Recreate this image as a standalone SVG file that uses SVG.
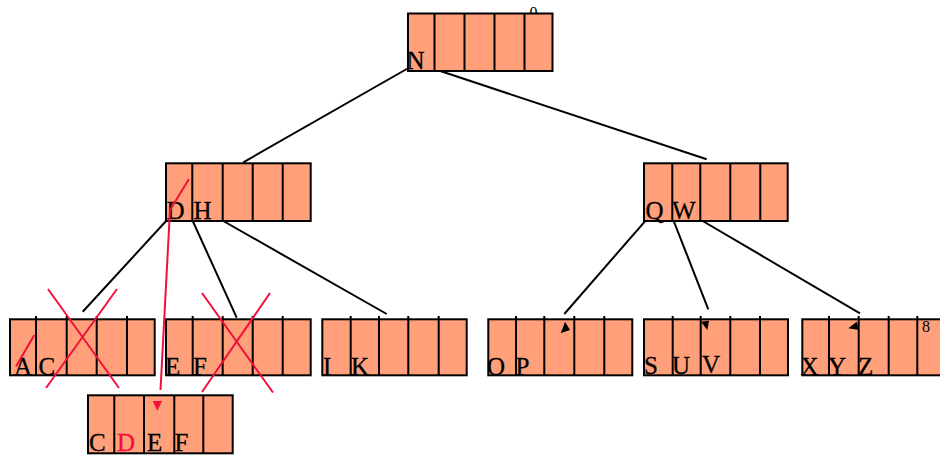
<svg xmlns="http://www.w3.org/2000/svg" width="940" height="456" viewBox="0 0 940 456">
<style>
.box{fill:#FFA07A;stroke:#000;stroke-width:2}
.div{stroke:#000;stroke-width:2;fill:none}
.lbl{font-family:"Liberation Serif","Times New Roman",serif;font-size:25px;fill:#000;stroke:#000;stroke-width:0.3}
.num{font-family:"Liberation Serif","Times New Roman",serif;font-size:16px;fill:#000}
.edge{stroke:#000;stroke-width:2;fill:none}
.head{fill:#000;stroke:none}
.red{stroke:#F0103C;stroke-width:2;fill:none}
.redfill{fill:#F0103C;stroke:none}
.redtxt{fill:#F0103C;stroke:#F0103C}
</style>
<rect width="940" height="456" fill="#fff"/>
<g id="connectors">
<line class="edge" x1="412" y1="66" x2="243.3" y2="162.3"/>
<line class="edge" x1="434.3" y1="69" x2="706.7" y2="159.3"/>
<line class="edge" x1="167" y1="220" x2="82.7" y2="311.7"/>
<line class="edge" x1="192.3" y1="220" x2="236.7" y2="317.7"/>
<line class="edge" x1="223.3" y1="221" x2="386.7" y2="314"/>
<line class="edge" x1="646.7" y1="219.3" x2="564.3" y2="314"/>
<line class="edge" x1="673.3" y1="220" x2="708.3" y2="309.3"/>
<line class="edge" x1="701" y1="220" x2="860" y2="313.3"/>
</g>
<g id="root">
<text class="num" x="529.5" y="18">0</text>
<rect class="box" x="408" y="13.5" width="144.5" height="57.5"/>
<path class="div" d="M434.5 13.5V71M464.5 13.5V71M494.5 13.5V71M524.5 13.5V71"/>
<text class="lbl" x="406.5" y="68.5">N</text>
</g>
<g id="node-DH">
<rect class="box" x="166" y="163.3" width="144.7" height="57.7"/>
<path class="div" d="M192.3 163.3V221M222.7 163.3V221M252.7 163.3V221M282.7 163.3V221"/>
<text class="lbl" x="166.5" y="218.5">D</text>
<text class="lbl" x="193.5" y="218.5">H</text>
</g>
<g id="node-QW">
<rect class="box" x="644" y="163.3" width="143.7" height="57.7"/>
<path class="div" d="M672.3 163.3V221M700.3 163.3V221M730.3 163.3V221M760.3 163.3V221"/>
<text class="lbl" x="645.5" y="218.5">Q</text>
<text class="lbl" x="672" y="218.5">W</text>
</g>
<g id="node-AC">
<rect class="box" x="10" y="319.3" width="144.7" height="56"/>
<path class="div" d="M36 316V375.3M66.7 316V375.3M96.7 316V375.3M127 316V375.3"/>
<text class="lbl" x="14" y="374.5">A</text>
<text class="lbl" x="38.5" y="374.5">C</text>
</g>
<g id="node-EF">
<rect class="box" x="166" y="319.3" width="144.7" height="56"/>
<path class="div" d="M192.7 316V375.3M222.7 316V375.3M252.7 316V375.3M282.7 316V375.3"/>
<text class="lbl" x="165" y="374.5">E</text>
<text class="lbl" x="193" y="374.5">F</text>
</g>
<g id="node-IK">
<rect class="box" x="322.3" y="319.3" width="144.4" height="56"/>
<path class="div" d="M350.7 316V375.3M379 316V375.3M408.3 316V375.3M438.7 316V375.3"/>
<text class="lbl" x="323" y="374.5">I</text>
<text class="lbl" x="351" y="374.5">K</text>
</g>
<g id="node-OP">
<rect class="box" x="488.3" y="319.3" width="144" height="56"/>
<path class="div" d="M516 316V375.3M544.3 316V375.3M574.3 316V375.3M604.3 316V375.3"/>
<text class="lbl" x="487" y="374.5">O</text>
<text class="lbl" x="515.5" y="374.5">P</text>
<polygon class="head" points="560.7,333.3 565,321.7 570,330"/>
</g>
<g id="node-SUV">
<rect class="box" x="644" y="319.3" width="144" height="56"/>
<path class="div" d="M672.7 316V375.3M700.7 316V375.3M730.3 316V375.3M760 316V375.3"/>
<text class="lbl" x="644" y="374">S</text>
<text class="lbl" x="672" y="374">U</text>
<text class="lbl" x="702" y="373">V</text>
<polygon class="head" points="701,321.7 709,320.7 707.3,330"/>
</g>
<g id="node-XYZ">
<rect class="box" x="802.3" y="319.3" width="144" height="56"/>
<path class="div" d="M829 316V375.3M858.7 316V375.3M888.7 316V375.3M917.3 316V375.3"/>
<text class="lbl" x="800.5" y="374.5">X</text>
<text class="lbl" x="828" y="374.5">Y</text>
<text class="lbl" x="858" y="374.5">Z</text>
<text class="num" x="922" y="331.5">8</text>
<polygon class="head" points="848.3,328.3 856.7,321.7 859.3,330"/>
</g>
<g id="node-CDEF">
<rect class="box" x="88" y="395.3" width="144.7" height="58"/>
<path class="div" d="M114.3 395.3V453.3M144 395.3V453.3M174.3 395.3V453.3M203.3 395.3V453.3"/>
<text class="lbl" x="89" y="451">C</text>
<text class="lbl redtxt" x="117" y="451">D</text>
<text class="lbl" x="147" y="451">E</text>
<text class="lbl" x="174.5" y="451">F</text>
<polygon class="redfill" points="152.7,401 162,401 157.3,410.7"/>
</g>
<g id="deletion-marks">
<line class="red" x1="48" y1="289" x2="119" y2="388"/>
<line class="red" x1="117" y1="289" x2="46" y2="388"/>
<line class="red" x1="202" y1="293" x2="273" y2="392.5"/>
<line class="red" x1="270" y1="293" x2="202" y2="392"/>
<line class="red" x1="34.3" y1="335" x2="16" y2="366.5"/>
<polyline class="red" points="189,179 170,210 160.5,390"/>
</g>
</svg>
